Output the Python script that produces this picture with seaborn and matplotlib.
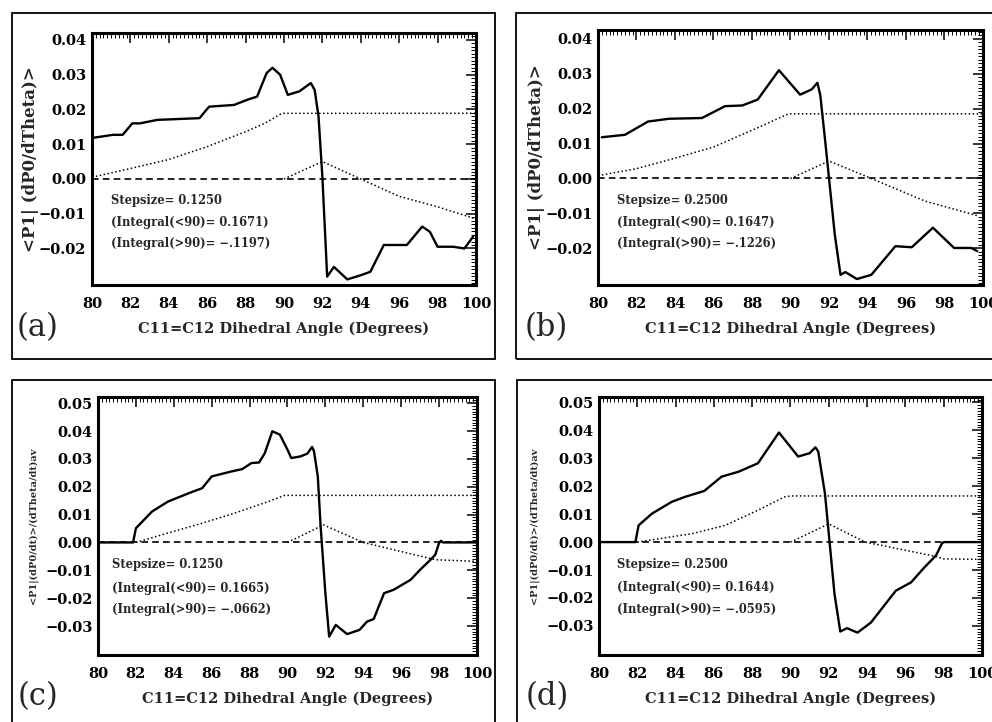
import numpy as np
import pandas as pd
import matplotlib
matplotlib.use("Agg")
import matplotlib.pyplot as plt
import seaborn as sns
from matplotlib.patches import Rectangle
from matplotlib.ticker import MultipleLocator, FixedLocator, FixedFormatter

# ---------------- data ----------------
xticks = [80, 82, 84, 86, 88, 90, 92, 94, 96, 98, 100]
yticks_ab = [-0.02, -0.01, 0.00, 0.01, 0.02, 0.03, 0.04]
yticks_cd = [-0.03, -0.02, -0.01, 0.00, 0.01, 0.02, 0.03, 0.04, 0.05]
xlabel = "C11=C12 Dihedral Angle (Degrees)"
ylabel_ab = "<P1| (dP0/dTheta)>"
ylabel_cd = "<P1|(dP0/dt)>/(dTheta/dt)av"
panel_tags = ["(a)", "(b)", "(c)", "(d)"]
stepsizes = ["0.1250", "0.2500", "0.1250", "0.2500"]
integral_lt90 = ["0.1671", "0.1647", "0.1665", "0.1644"]
integral_gt90 = ["-.1197", "-.1226", "-.0662", "-.0595"]

# panel (a)
a_x = [80.0, 81.1, 81.6, 82.1, 82.5, 83.4, 85.6, 86.1, 87.4, 88.1, 88.6, 89.1, 89.4, 89.8,
       90.2, 90.8, 91.4, 91.6, 91.8, 92.0, 92.25, 92.6, 93.3, 94.0, 94.5, 95.2, 95.6, 96.4,
       97.2, 97.6, 98.0, 98.8, 99.4, 99.85]
a_y = [0.0118, 0.0127, 0.0127, 0.0160, 0.0160, 0.0170, 0.0175, 0.0208, 0.0213, 0.0228, 0.0237,
       0.0305, 0.0320, 0.0300, 0.0242, 0.0252, 0.0276, 0.0256, 0.0180, 0.0007, -0.0281, -0.0253,
       -0.0289, -0.0277, -0.0267, -0.0190, -0.0190, -0.0190, -0.0137, -0.0152, -0.0195, -0.0195,
       -0.0200, -0.0166]
a_up_x = [80, 82, 84, 86, 88, 89, 89.8, 90, 100]
a_up_y = [0.0005, 0.0030, 0.0056, 0.0093, 0.0136, 0.0160, 0.0186, 0.0189, 0.0189]
a_lo_x = [90, 92, 94, 96, 98, 100]
a_lo_y = [0.0, 0.0050, 0.0, -0.0050, -0.0080, -0.0115]

# panel (b)
b_x = [80.2, 81.4, 82.6, 83.7, 85.4, 86.6, 87.5, 88.3, 89.4, 90.5, 91.1, 91.4, 91.55, 91.8,
       92.3, 92.6, 92.85, 93.45, 94.2, 95.45, 96.3, 97.4, 98.5, 99.4, 99.7]
b_y = [0.0118, 0.0125, 0.0163, 0.0171, 0.0173, 0.0207, 0.0209, 0.0226, 0.0310, 0.0240, 0.0255,
       0.0274, 0.0238, 0.0109, -0.0160, -0.0276, -0.0268, -0.0288, -0.0276, -0.0194, -0.0197,
       -0.0141, -0.0199, -0.0199, -0.0208]
b_up_x = [80, 82, 84, 86, 88, 89.9, 100]
b_up_y = [0.0008, 0.0028, 0.0058, 0.0090, 0.0138, 0.0185, 0.0185]
b_lo_x = [90, 92, 94.2, 97, 99.8]
b_lo_y = [0.0, 0.0050, 0.0, -0.0065, -0.0108]

# panel (c)
c_x = [80, 81.85, 82.0, 82.85, 83.7, 84.8, 85.5, 86.0, 87.05, 87.6, 88.1, 88.5, 88.8, 89.2,
       89.6, 90.0, 90.2, 90.7, 91.05, 91.3, 91.4, 91.6, 91.75, 92.0, 92.2, 92.55, 93.15, 93.8,
       94.2, 94.55, 95.1, 95.6, 96.5, 97.0, 97.55, 97.8, 98.0, 98.1, 98.2, 100]
c_y = [0.0, 0.0, 0.0051, 0.0111, 0.0147, 0.0177, 0.0195, 0.0237, 0.0255, 0.0263, 0.0285, 0.0287,
       0.0320, 0.0399, 0.0387, 0.0333, 0.0303, 0.0309, 0.0319, 0.0343, 0.0327, 0.0237, 0.0057,
       -0.0182, -0.0338, -0.0296, -0.0329, -0.0314, -0.0284, -0.0275, -0.0182, -0.0170, -0.0134,
       -0.0098, -0.0062, -0.0044, -0.0002, 0.0006, 0.0, 0.0]
c_up_x = [82, 83.7, 85.5, 87.2, 89.0, 89.85, 100]
c_up_y = [0.0, 0.0034, 0.0069, 0.0105, 0.0147, 0.0169, 0.0169]
c_lo_x = [90, 91.9, 94.0, 97.8, 100]
c_lo_y = [0.0, 0.0063, 0.0, -0.0062, -0.0068]

# panel (d)
d_x = [80, 81.9, 82.07, 82.77, 83.8, 84.5, 85.5, 86.4, 87.3, 88.3, 89.4, 90.4, 91.0, 91.3,
       91.45, 91.8, 92.3, 92.6, 92.95, 93.5, 94.2, 95.5, 96.3, 97.0, 97.6, 97.9, 98.0, 100]
d_y = [0.0, 0.0, 0.0060, 0.0102, 0.0144, 0.0162, 0.0183, 0.0234, 0.0252, 0.0282, 0.0392, 0.0306,
       0.0318, 0.0339, 0.0324, 0.0174, -0.0186, -0.0320, -0.0308, -0.0324, -0.0288, -0.0174,
       -0.0144, -0.0090, -0.0048, -0.0006, 0.0, 0.0]
d_up_x = [82, 84.85, 86.6, 88.3, 89.7, 90, 100]
d_up_y = [0.0, 0.0030, 0.0060, 0.0114, 0.0162, 0.0165, 0.0165]
d_lo_x = [90, 92, 93.9, 97.5, 98, 100]
d_lo_y = [0.0, 0.0065, 0.0, -0.0050, -0.0060, -0.0062]

zero_x = [80, 100]
zero_y = [0.0, 0.0]

# ---------------- style ----------------
sns.set_theme(style="white")
plt.rcParams['font.family'] = ['DejaVu Serif']
plt.rcParams['font.weight'] = 'bold'
plt.rcParams['axes.labelweight'] = 'bold'

fig = plt.figure(figsize=(9.92, 7.22), dpi=100)

# panel frames (figure coordinates)
boxes = [(0.0121, 0.5028, 0.4869, 0.4792),
         (0.5200, 0.5028, 0.4900, 0.4792),
         (0.0121, -0.01, 0.4869, 0.4837),
         (0.5212, -0.01, 0.4900, 0.4837)]
for (x0, y0, w, h) in boxes:
    fig.add_artist(Rectangle((x0, y0), w, h, transform=fig.transFigure, fill=False,
                             edgecolor='black', linewidth=1.3, clip_on=False))

axes_pos = [(0.0927, 0.6053, 0.3871, 0.3490),
            (0.6028, 0.6053, 0.3881, 0.3531),
            (0.0988, 0.0928, 0.3820, 0.3573),
            (0.6038, 0.0928, 0.3861, 0.3573)]

panels = [
    dict(x=a_x, y=a_y, ux=a_up_x, uy=a_up_y, lx=a_lo_x, ly=a_lo_y, ylim=(-0.0305, 0.042),
         yt=yticks_ab, ylab=ylabel_ab, ylfs=12, ylpad=0, tx=81.0, ty=[-0.0062, -0.0125, -0.0185]),
    dict(x=b_x, y=b_y, ux=b_up_x, uy=b_up_y, lx=b_lo_x, ly=b_lo_y, ylim=(-0.0305, 0.0425),
         yt=yticks_ab, ylab=ylabel_ab, ylfs=12, ylpad=0, tx=81.0, ty=[-0.0064, -0.0127, -0.0187]),
    dict(x=c_x, y=c_y, ux=c_up_x, uy=c_up_y, lx=c_lo_x, ly=c_lo_y, ylim=(-0.0404, 0.0522),
         yt=yticks_cd, ylab=ylabel_cd, ylfs=7, ylpad=5, tx=80.75, ty=[-0.0080, -0.0164, -0.0240]),
    dict(x=d_x, y=d_y, ux=d_up_x, uy=d_up_y, lx=d_lo_x, ly=d_lo_y, ylim=(-0.0404, 0.0519),
         yt=yticks_cd, ylab=ylabel_cd, ylfs=7, ylpad=5, tx=80.95, ty=[-0.0080, -0.0162, -0.0240]),
]

tag_pos = [(0.0383, 0.5457), (0.551, 0.5457), (0.0383, 0.0346), (0.552, 0.0346)]

for i, p in enumerate(panels):
    ax = fig.add_axes(axes_pos[i])
    sns.lineplot(x=zero_x, y=zero_y, ax=ax, color='black', linewidth=1.2,
                 linestyle=(0, (4, 2.5)), estimator=None, sort=False)
    sns.lineplot(x=p['ux'], y=p['uy'], ax=ax, color='black', linewidth=1.1,
                 linestyle=(0, (1, 1.6)), estimator=None, sort=False)
    sns.lineplot(x=p['lx'], y=p['ly'], ax=ax, color='black', linewidth=1.1,
                 linestyle=(0, (1, 1.6)), estimator=None, sort=False)
    sns.lineplot(x=p['x'], y=p['y'], ax=ax, color='black', linewidth=1.7,
                 estimator=None, sort=False)
    ax.set_xlim(80, 100)
    ax.set_ylim(*p['ylim'])
    ax.xaxis.set_major_locator(FixedLocator(xticks))
    ax.set_xticklabels([str(t) for t in xticks])
    ax.xaxis.set_minor_locator(MultipleLocator(0.2))
    ax.yaxis.set_major_locator(FixedLocator(p['yt']))
    ax.yaxis.set_major_formatter(FixedFormatter(
        [("\u2212%.2f" % abs(v)) if v < 0 else ("%.2f" % v) for v in p['yt']]))
    ax.yaxis.set_minor_locator(MultipleLocator(0.001))
    ax.tick_params(which='both', direction='in', top=True, right=True, colors='black')
    ax.tick_params(which='major', length=7, width=1.1, labelsize=10.5)
    ax.tick_params(which='minor', length=3.5, width=0.7)
    ax.tick_params(axis='x', which='major', pad=9)
    ax.tick_params(axis='y', which='major', pad=4)
    for lab in ax.get_xticklabels() + ax.get_yticklabels():
        lab.set_fontweight('bold')
    for s in ax.spines.values():
        s.set_linewidth(2.2)
        s.set_color('black')
    ax.set_xlabel(xlabel, fontsize=10.5, fontweight='bold', labelpad=7)
    ax.set_ylabel(p['ylab'], fontsize=p['ylfs'], fontweight='bold', labelpad=p['ylpad'])
    ax.text(p['tx'], p['ty'][0], "Stepsize= " + stepsizes[i], fontsize=8.3,
            fontweight='bold', va='center', ha='left')
    ax.text(p['tx'], p['ty'][1], "(Integral(<90)= " + integral_lt90[i] + ")", fontsize=8.3,
            fontweight='bold', va='center', ha='left')
    ax.text(p['tx'], p['ty'][2], "(Integral(>90)= " + integral_gt90[i].replace('-', '\u2212') + ")",
            fontsize=8.3, fontweight='bold', va='center', ha='left')
    ax.grid(False)
    fig.text(tag_pos[i][0], tag_pos[i][1], panel_tags[i], fontsize=22, fontweight='normal',
             ha='center', va='center', family='DejaVu Serif')

fig.savefig("out.png", dpi=100, facecolor='white')
